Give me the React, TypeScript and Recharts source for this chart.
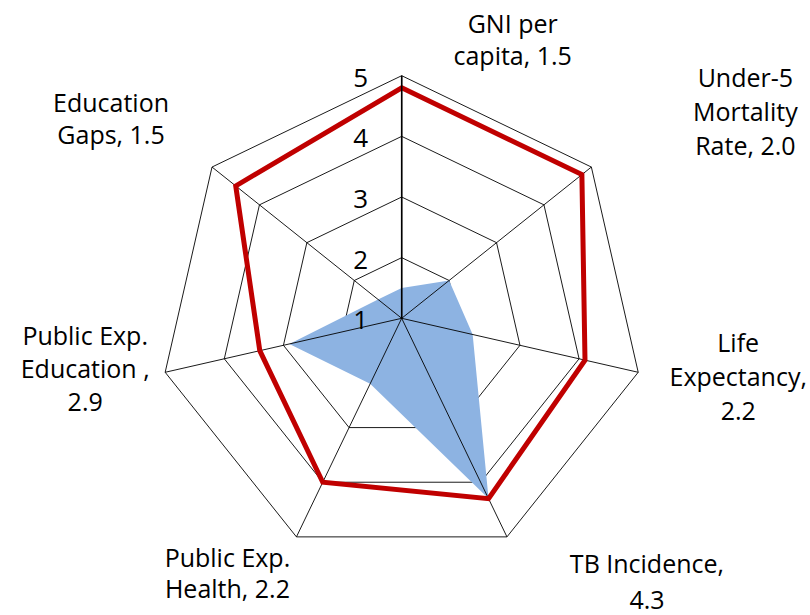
import { RadarChart, Radar, PolarGrid, PolarAngleAxis, PolarRadiusAxis } from "recharts";

// axes of the radar, clockwise from the top
const categories = [
  "GNI per capita",
  "Under-5 Mortality Rate",
  "Life Expectancy",
  "TB Incidence",
  "Public Exp. Health",
  "Public Exp. Education",
  "Education Gaps",
];
const countryValues = [1.5, 2.0, 2.2, 4.3, 2.2, 2.9, 1.5];
const thresholdValues = [4.8, 4.8, 4.1, 4.3, 4.0, 3.4, 4.5];
const categoryLabelLines = [
  ["GNI per", "capita, 1.5"],
  ["Under-5", "Mortality", "Rate, 2.0"],
  ["Life", "Expectancy,", "2.2"],
  ["TB Incidence,", "4.3"],
  ["Public Exp.", "Health, 2.2"],
  ["Public Exp.", "Education ,", "2.9"],
  ["Education", "Gaps, 1.5"],
];
const radiusTicks = [1, 2, 3, 4, 5];

const data = categories.map((category, i) => ({
  category,
  country: countryValues[i],
  threshold: thresholdValues[i],
}));

const CX = 401.7;
const CY = 318.3;
const OUTER = 242.6;
const FONT = "'Open Sans', sans-serif";

// label placement relative to each outer vertex: [dx, dy of first line centre, line gap]
const labelPlacement = [
  [111, -52, 32],
  [154, -89, 34],
  [100, -29, 34],
  [140, 27, 36],
  [-69, 21, 31],
  [-80, -36, 33],
  [-101, -64, 32],
];

function AngleTick(props: any) {
  const { index } = props;
  const lines = categoryLabelLines[index] || [];
  const [dx, dy, gap] = labelPlacement[index] || [0, 0, 33];
  const a = ((90 - (index * 360) / categories.length) * Math.PI) / 180;
  const vx = CX + OUTER * Math.cos(a);
  const vy = CY - OUTER * Math.sin(a);
  const tx = vx + dx;
  return (
    <text textAnchor="middle" fontSize={25} fontFamily={FONT} fill="#000">
      {lines.map((line, i) => (
        <tspan key={i} x={tx} y={vy + dy + i * gap + 9}>
          {line}
        </tspan>
      ))}
    </text>
  );
}

function RadiusTick(props: any) {
  const { x, y, payload } = props;
  return (
    <text x={x - 41} y={y + 11} textAnchor="middle" fontSize={26} fontFamily={FONT} fill="#000">
      {payload.value}
    </text>
  );
}

export default function App() {
  return (
    <div style={{ position: "absolute", left: 0, top: 0, width: 810, height: 615, background: "#fff" }}>
      <RadarChart
        width={810}
        height={615}
        data={data}
        cx={CX}
        cy={CY}
        outerRadius={OUTER}
        margin={{ top: 0, right: 0, bottom: 0, left: 0 }}
      >
        <PolarGrid gridType="polygon" radialLines={false} stroke="#000" strokeWidth={0.9} />
        <Radar
          dataKey="country"
          fill="#8DB3E2"
          fillOpacity={1}
          stroke="none"
          dot={false}
          isAnimationActive={false}
        />
        <PolarGrid
          gridType="polygon"
          polarRadius={[0]}
          radialLines
          stroke="#000"
          strokeWidth={0.9}
          {...({ zIndex: 200 } as any)}
        />
        <Radar
          dataKey="threshold"
          fill="none"
          fillOpacity={0}
          stroke="#C00000"
          strokeWidth={5}
          strokeLinejoin="miter"
          dot={false}
          isAnimationActive={false}
          {...({ zIndex: 300 } as any)}
        />
        <PolarAngleAxis
          dataKey="category"
          axisLine={false}
          tickLine={false}
          tick={AngleTick}
        />
        <PolarRadiusAxis
          angle={90}
          domain={[1, 5]}
          ticks={radiusTicks as any}
          tickCount={5}
          axisLine={{ stroke: "#000", strokeWidth: 1.6 }}
          tickLine={false}
          tick={RadiusTick}
          {...({ zIndex: 400 } as any)}
        />
      </RadarChart>
    </div>
  );
}
